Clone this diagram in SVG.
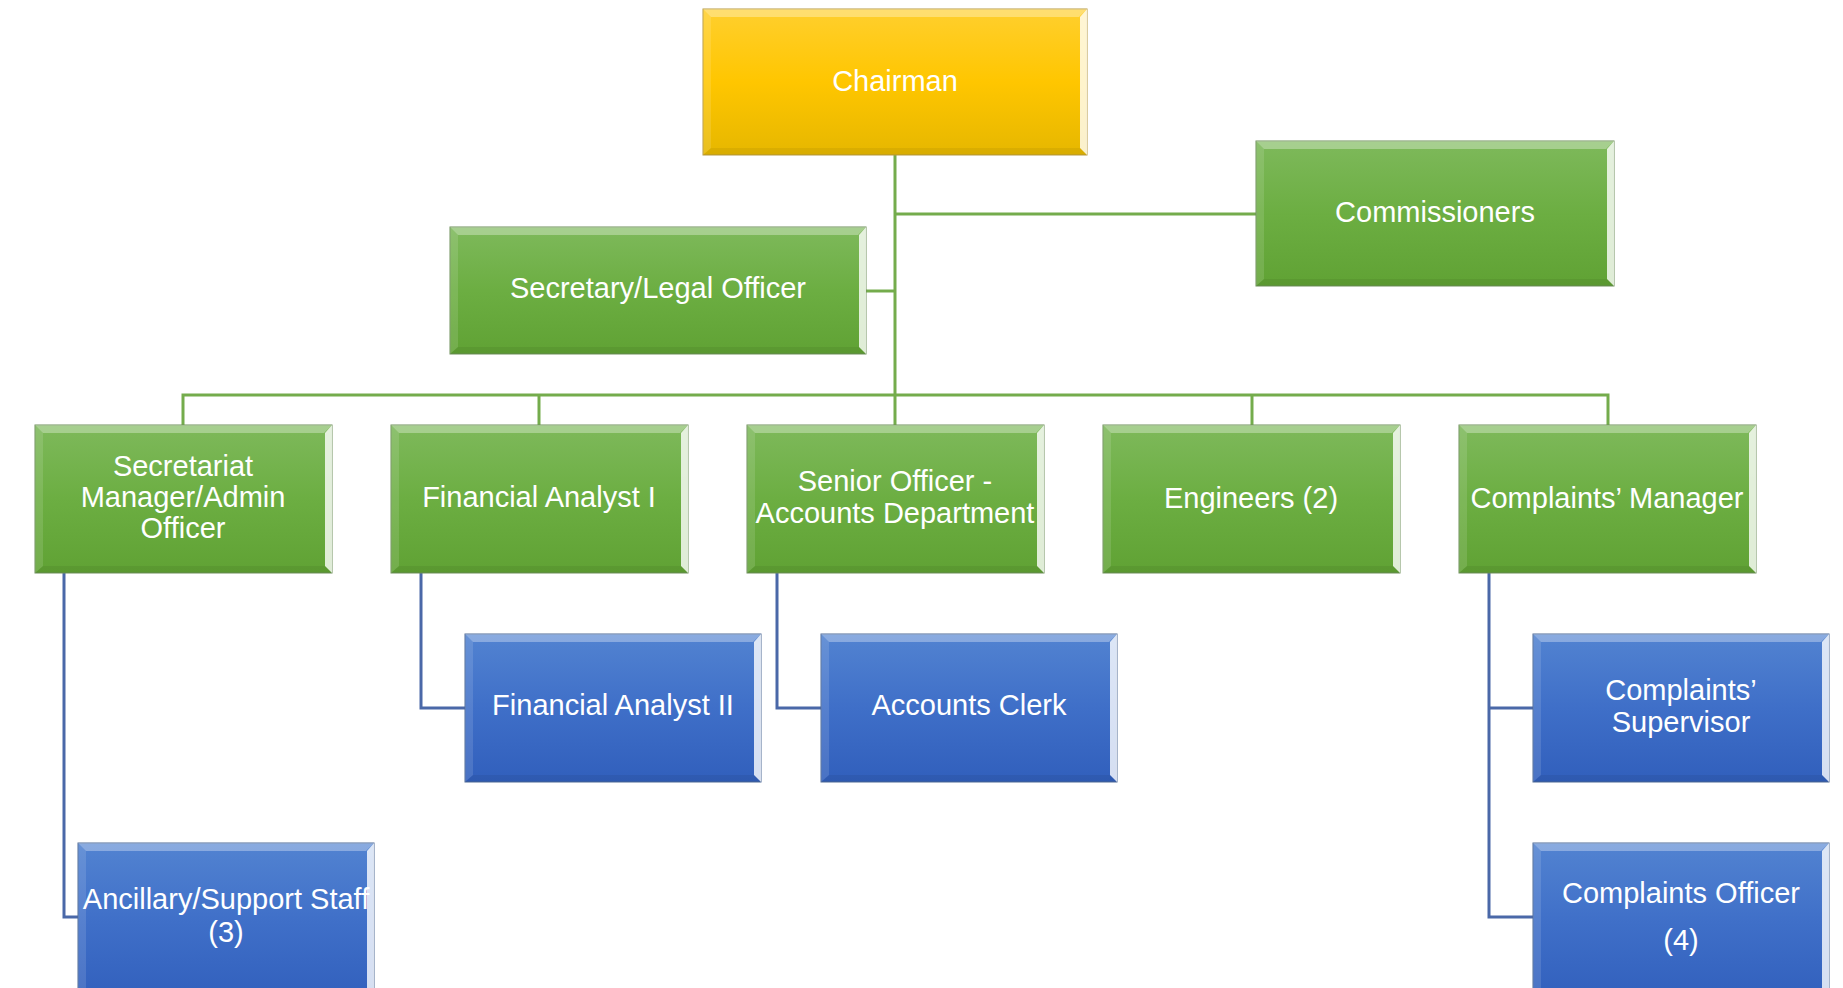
<svg xmlns="http://www.w3.org/2000/svg" width="1843" height="988" viewBox="0 0 1843 988">
<defs>
<linearGradient id="gGold" x1="0" y1="0" x2="0" y2="1">
<stop offset="0" stop-color="#FFCF2E"/><stop offset="0.5" stop-color="#FFC600"/><stop offset="1" stop-color="#E6B700"/>
</linearGradient>
<linearGradient id="gGreen" x1="0" y1="0" x2="0" y2="1">
<stop offset="0" stop-color="#7EB95B"/><stop offset="0.5" stop-color="#6CAE42"/><stop offset="1" stop-color="#60A234"/>
</linearGradient>
<linearGradient id="gBlue" x1="0" y1="0" x2="0" y2="1">
<stop offset="0" stop-color="#5283D1"/><stop offset="0.5" stop-color="#3F6FC8"/><stop offset="1" stop-color="#315FBC"/>
</linearGradient>
</defs>
<style>
.gold{fill:url(#gGold);stroke:#B89A40;stroke-width:1}
.green{fill:url(#gGreen);stroke:#6E8F5A;stroke-width:1}
.blue{fill:url(#gBlue);stroke:#4F6A96;stroke-width:1}
.bt{fill:#ffffff;fill-opacity:0.32}
.br{fill:#ffffff;fill-opacity:0.8}
.bl{fill:#ffffff;fill-opacity:0.12}
.bb{fill:#000000;fill-opacity:0.06}
.lbl{font-family:"Liberation Sans",Arial,sans-serif;font-size:29px;fill:#ffffff;text-anchor:middle}
.cg{fill:none;stroke:#74AC4C;stroke-width:3}
.cb{fill:none;stroke:#4A68A8;stroke-width:3}
</style>
<g id="connectors">
<path class="cg" d="M895 155V425"/>
<path class="cg" d="M895 214H1256"/>
<path class="cg" d="M866 291H895"/>
<path class="cg" d="M183 425V395H1608V425"/>
<path class="cg" d="M539 395V425"/>
<path class="cg" d="M1252 395V425"/>
<path class="cb" d="M64 573V917H78"/>
<path class="cb" d="M421 573V708H465"/>
<path class="cb" d="M777 573V708H821"/>
<path class="cb" d="M1489 573V917H1533"/>
<path class="cb" d="M1489 708H1533"/>
</g>
<g id="chairman">
<rect class="gold" x="703" y="9" width="384" height="146"/>
<polygon class="bt" points="703,9 1087,9 1079,17 711,17"/>
<polygon class="br" points="1087,9 1087,155 1080,148 1080,17"/>
<polygon class="bl" points="703,9 711,17 711,148 703,155"/>
<polygon class="bb" points="703,155 1087,155 1080,148 711,148"/>
<text class="lbl" x="895" y="91">Chairman</text>
</g>
<g id="commissioners">
<rect class="green" x="1256" y="141" width="358" height="145"/>
<polygon class="bt" points="1256,141 1614,141 1606,149 1264,149"/>
<polygon class="br" points="1614,141 1614,286 1607,279 1607,149"/>
<polygon class="bl" points="1256,141 1264,149 1264,279 1256,286"/>
<polygon class="bb" points="1256,286 1614,286 1607,279 1264,279"/>
<text class="lbl" x="1435" y="222">Commissioners</text>
</g>
<g id="secretary">
<rect class="green" x="450" y="227" width="416" height="127"/>
<polygon class="bt" points="450,227 866,227 858,235 458,235"/>
<polygon class="br" points="866,227 866,354 859,347 859,235"/>
<polygon class="bl" points="450,227 458,235 458,347 450,354"/>
<polygon class="bb" points="450,354 866,354 859,347 458,347"/>
<text class="lbl" x="658" y="298">Secretary/Legal Officer</text>
</g>
<g id="secretariat">
<rect class="green" x="35" y="425" width="297" height="148"/>
<polygon class="bt" points="35,425 332,425 324,433 43,433"/>
<polygon class="br" points="332,425 332,573 325,566 325,433"/>
<polygon class="bl" points="35,425 43,433 43,566 35,573"/>
<polygon class="bb" points="35,573 332,573 325,566 43,566"/>
<text class="lbl" x="183" y="476">Secretariat</text>
<text class="lbl" x="183" y="507">Manager/Admin</text>
<text class="lbl" x="183" y="538">Officer</text>
</g>
<g id="financial1">
<rect class="green" x="391" y="425" width="297" height="148"/>
<polygon class="bt" points="391,425 688,425 680,433 399,433"/>
<polygon class="br" points="688,425 688,573 681,566 681,433"/>
<polygon class="bl" points="391,425 399,433 399,566 391,573"/>
<polygon class="bb" points="391,573 688,573 681,566 399,566"/>
<text class="lbl" x="539" y="507">Financial Analyst I</text>
</g>
<g id="senior">
<rect class="green" x="747" y="425" width="297" height="148"/>
<polygon class="bt" points="747,425 1044,425 1036,433 755,433"/>
<polygon class="br" points="1044,425 1044,573 1037,566 1037,433"/>
<polygon class="bl" points="747,425 755,433 755,566 747,573"/>
<polygon class="bb" points="747,573 1044,573 1037,566 755,566"/>
<text class="lbl" x="895" y="491">Senior Officer -</text>
<text class="lbl" x="895" y="523">Accounts Department</text>
</g>
<g id="engineers">
<rect class="green" x="1103" y="425" width="297" height="148"/>
<polygon class="bt" points="1103,425 1400,425 1392,433 1111,433"/>
<polygon class="br" points="1400,425 1400,573 1393,566 1393,433"/>
<polygon class="bl" points="1103,425 1111,433 1111,566 1103,573"/>
<polygon class="bb" points="1103,573 1400,573 1393,566 1111,566"/>
<text class="lbl" x="1251" y="508">Engineers (2)</text>
</g>
<g id="complaintsManager">
<rect class="green" x="1459" y="425" width="297" height="148"/>
<polygon class="bt" points="1459,425 1756,425 1748,433 1467,433"/>
<polygon class="br" points="1756,425 1756,573 1749,566 1749,433"/>
<polygon class="bl" points="1459,425 1467,433 1467,566 1459,573"/>
<polygon class="bb" points="1459,573 1756,573 1749,566 1467,566"/>
<text class="lbl" x="1607" y="508">Complaints’ Manager</text>
</g>
<g id="financial2">
<rect class="blue" x="465" y="634" width="296" height="148"/>
<polygon class="bt" points="465,634 761,634 753,642 473,642"/>
<polygon class="br" points="761,634 761,782 754,775 754,642"/>
<polygon class="bl" points="465,634 473,642 473,775 465,782"/>
<polygon class="bb" points="465,782 761,782 754,775 473,775"/>
<text class="lbl" x="613" y="715">Financial Analyst II</text>
</g>
<g id="accountsClerk">
<rect class="blue" x="821" y="634" width="296" height="148"/>
<polygon class="bt" points="821,634 1117,634 1109,642 829,642"/>
<polygon class="br" points="1117,634 1117,782 1110,775 1110,642"/>
<polygon class="bl" points="821,634 829,642 829,775 821,782"/>
<polygon class="bb" points="821,782 1117,782 1110,775 829,775"/>
<text class="lbl" x="969" y="715">Accounts Clerk</text>
</g>
<g id="complaintsSupervisor">
<rect class="blue" x="1533" y="634" width="296" height="148"/>
<polygon class="bt" points="1533,634 1829,634 1821,642 1541,642"/>
<polygon class="br" points="1829,634 1829,782 1822,775 1822,642"/>
<polygon class="bl" points="1533,634 1541,642 1541,775 1533,782"/>
<polygon class="bb" points="1533,782 1829,782 1822,775 1541,775"/>
<text class="lbl" x="1681" y="700">Complaints’</text>
<text class="lbl" x="1681" y="732">Supervisor</text>
</g>
<g id="ancillary">
<rect class="blue" x="78" y="843" width="296" height="160"/>
<polygon class="bt" points="78,843 374,843 366,851 86,851"/>
<polygon class="br" points="374,843 374,1003 367,1003 367,851"/>
<polygon class="bl" points="78,843 86,851 86,1003 78,1003"/>
<text class="lbl" x="226" y="909">Ancillary/Support Staff</text>
<text class="lbl" x="226" y="942">(3)</text>
</g>
<g id="complaintsOfficer">
<rect class="blue" x="1533" y="843" width="296" height="160"/>
<polygon class="bt" points="1533,843 1829,843 1821,851 1541,851"/>
<polygon class="br" points="1829,843 1829,1003 1822,1003 1822,851"/>
<polygon class="bl" points="1533,843 1541,851 1541,1003 1533,1003"/>
<text class="lbl" x="1681" y="903">Complaints Officer</text>
<text class="lbl" x="1681" y="950">(4)</text>
</g>
</svg>
